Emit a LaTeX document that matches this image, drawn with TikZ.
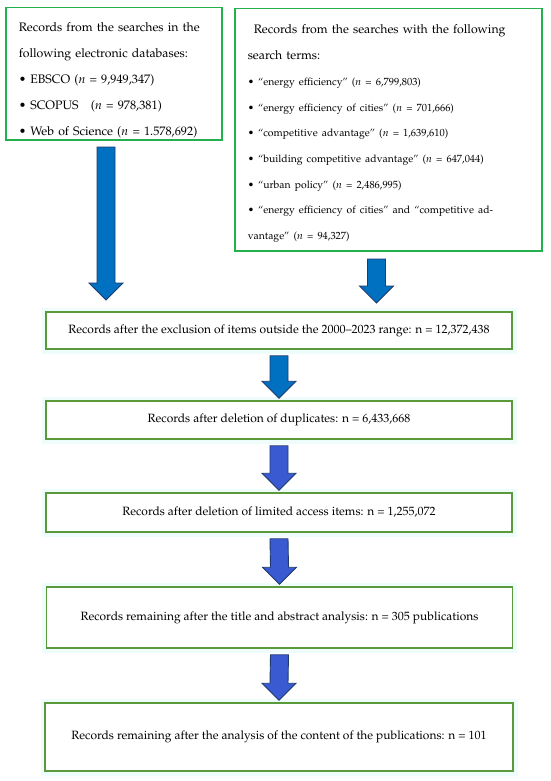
\documentclass[tikz,border=0pt]{standalone}
\usepackage[T1]{fontenc}
\usepackage{mathpazo}
\usetikzlibrary{calc}
\definecolor{topgreen}{HTML}{22B14C}
\definecolor{boxgreen}{HTML}{5A9A3A}
\definecolor{arrowblue}{HTML}{0070C0}
\definecolor{arrowviolet}{HTML}{3A5AD2}
\definecolor{arrowline}{HTML}{1F3A6E}
\definecolor{glow}{HTML}{EEFCFC}

\tikzset{
    srcbox/.style={draw=topgreen, line width=1.5pt, anchor=north west, align=left,
        inner xsep=13pt, inner ysep=0pt},
    stepbox/.style={draw=boxgreen, line width=1.5pt, fill=white,
        preaction={draw=glow, line width=9pt}, minimum width=466pt,
        font=\fontsize{12}{14}\selectfont},
    fatarrow/.style={draw=arrowline, line width=0.9pt, fill=arrowblue}
}
% block arrow: #1 extra style, #2 top, #3 tip
\newcommand\blockdown[3][]{%
    \draw[fatarrow,#1] ($(#2)+(-9,6)$) -- ($(#2)+(9,6)$) -- ($(#3)+(9,-19)$)
        -- ($(#3)+(17,-19)$) -- ($(#3)+(0,-2)$) -- ($(#3)+(-17,-19)$)
        -- ($(#3)+(-9,-19)$) -- cycle;}

\begin{document}
\begin{tikzpicture}[x=1pt,y=-1pt]
    \useasboundingbox (0,0) rectangle (550,781);

    % sources
    \node[srcbox, text width=190pt, minimum width=213pt, minimum height=132pt,
        font=\fontsize{12.3}{26}\selectfont] (db) at (5,7)
        {\rule{0pt}{22pt}Records from the searches in the\\
         following electronic databases:\\
         \textbullet\ EBSCO ($n$ = 9,949,347)\\
         \textbullet\ SCOPUS\quad($n$ = 978,381)\\
         \textbullet\ Web of Science ($n$ = 1.578,692)};
    \node[srcbox, text width=281pt, minimum width=307pt, minimum height=242pt,
        font=\fontsize{12.3}{25.7}\selectfont] (terms) at (234,8)
        {\rule{0pt}{17pt}\hspace{6pt}Records from the searches with the following\\
         search terms:\\
         {\fontsize{10.4}{25.7}\selectfont
         \textbullet\ ``energy efficiency'' ($n$ = 6,799,803)\\
         \textbullet\ ``energy efficiency of cities'' ($n$ = 701,666)\\
         \textbullet\ ``competitive advantage'' ($n$ = 1,639,610)\\
         \textbullet\ ``building competitive advantage'' ($n$ = 647,044)\\
         \textbullet\ ``urban policy'' ($n$ = 2,486,995)\\
         \textbullet\ ``energy efficiency of cities'' and ``competitive ad-\\
         vantage'' ($n$ = 94,327)}};

    % screening steps
    \node[stepbox, minimum height=37pt] (range) at (279,330.5)
        {Records after the exclusion of items outside the 2000--2023 range: n = 12,372,438};
    \node[stepbox, minimum height=38pt] (dupl) at (279,420)
        {Records after deletion of duplicates: n = 6,433,668};
    \node[stepbox, minimum height=39pt] (access) at (279,512.5)
        {Records after deletion of limited access items: n = 1,255,072};
    \node[stepbox, minimum height=61pt] (title) at (279.5,617.5)
        {Records remaining after the title and abstract analysis: n = 305 publications};
    \node[stepbox, minimum height=68pt, minimum width=468pt] (content) at (279,737)
        {Records remaining after the analysis of the content of the publications: n = 101};

    \coordinate (dbout) at (106,141);
    \coordinate (dbin) at (106,302);
    \coordinate (termsout) at (376.5,253);
    \coordinate (termsin) at (376.5,305);

    \blockdown{dbout}{dbin}
    \blockdown{termsout}{termsin}
    \blockdown{range.south}{dupl.north}
    \blockdown[fill=arrowviolet]{dupl.south}{access.north}
    \blockdown[fill=arrowviolet]{access.south}{title.north}
    \blockdown[fill=arrowviolet]{title.south}{content.north}
\end{tikzpicture}
\end{document}
